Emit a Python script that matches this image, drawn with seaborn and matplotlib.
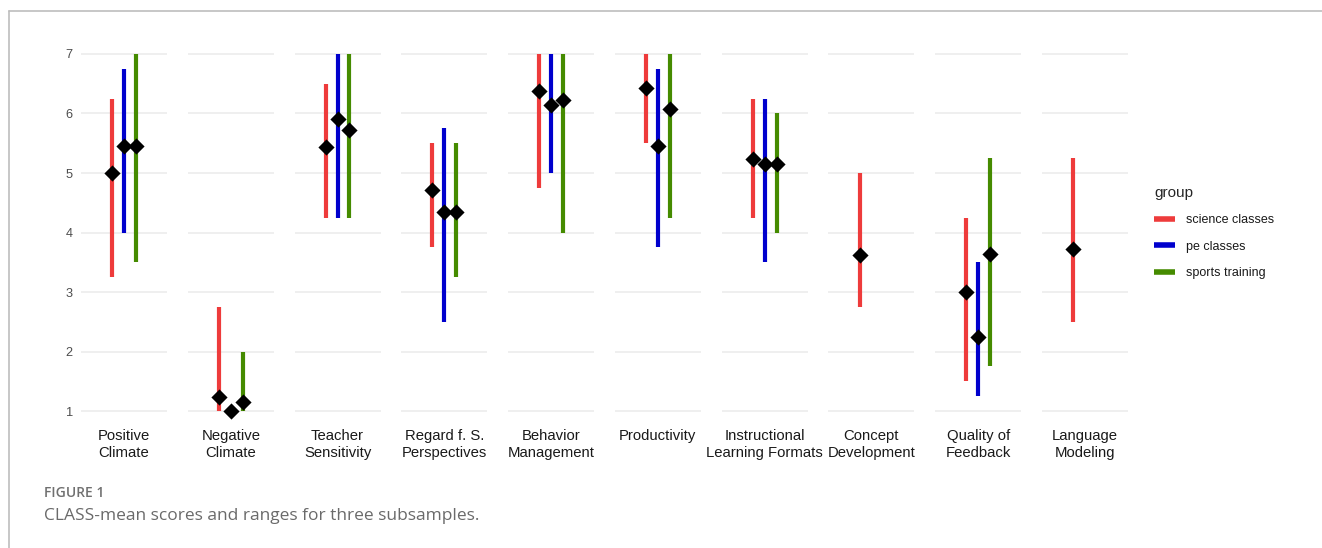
import numpy as np
import pandas as pd
import matplotlib
matplotlib.use("Agg")
import matplotlib.pyplot as plt
from matplotlib.lines import Line2D
import seaborn as sns

nan = np.nan

dimensions = [
    "Positive\nClimate", "Negative\nClimate", "Teacher\nSensitivity",
    "Regard f. S.\nPerspectives", "Behavior\nManagement", "Productivity",
    "Instructional\nLearning Formats", "Concept\nDevelopment",
    "Quality of\nFeedback", "Language\nModeling",
]
groups = ["science classes", "pe classes", "sports training"]

science_mean = [5.00, 1.23, 5.44, 4.71, 6.38, 6.43, 5.24, 3.63, 3.00, 3.72]
science_min = [3.25, 1.00, 4.25, 3.75, 4.75, 5.50, 4.25, 2.75, 1.50, 2.50]
science_max = [6.25, 2.75, 6.50, 5.50, 7.00, 7.00, 6.25, 5.00, 4.25, 5.25]

pe_mean = [5.45, 1.00, 5.90, 4.34, 6.15, 5.45, 5.15, nan, 2.25, nan]
pe_min = [4.00, 1.00, 4.25, 2.50, 5.00, 3.75, 3.50, nan, 1.25, nan]
pe_max = [6.75, 1.00, 7.00, 5.75, 7.00, 6.75, 6.25, nan, 3.50, nan]

sports_mean = [5.45, 1.15, 5.73, 4.34, 6.22, 6.07, 5.15, nan, 3.64, nan]
sports_min = [3.50, 1.00, 4.25, 3.25, 4.00, 4.25, 4.00, nan, 1.75, nan]
sports_max = [7.00, 2.00, 7.00, 5.50, 7.00, 7.00, 6.00, nan, 5.25, nan]

y_ticks = [1, 2, 3, 4, 5, 6, 7]
palette = {"science classes": "#EE3B3B", "pe classes": "#0000CD",
           "sports training": "#458B00"}

# long-form table: one row per dimension and group
frames = []
for grp, mean, lo, hi in [
    ("science classes", science_mean, science_min, science_max),
    ("pe classes", pe_mean, pe_min, pe_max),
    ("sports training", sports_mean, sports_min, sports_max),
]:
    frames.append(pd.DataFrame({"dimension": dimensions, "group": grp,
                                "mean": mean, "lo": lo, "hi": hi}))
df = pd.concat(frames, ignore_index=True)
df["group"] = pd.Categorical(df["group"], categories=groups)

sns.set_theme(style="white")
plt.rcParams["font.family"] = ["Liberation Sans", "DejaVu Sans"]

DODGE = 0.5


def draw_ranges(data, **kwargs):
    ax = plt.gca()
    data = data.dropna(subset=["mean"]).copy()
    idx = data["group"].cat.codes.to_numpy()
    data["x"] = 1 + (idx - 1) * DODGE / 3
    ax.vlines(data["x"], data["lo"], data["hi"],
              colors=[palette[g] for g in data["group"]],
              linewidth=3.0, capstyle="butt", zorder=2)
    sns.scatterplot(data=data, x="x", y="mean", marker="D", color="black",
                    s=68, linewidth=0, ax=ax, zorder=3, legend=False)


g = sns.FacetGrid(df, col="dimension", col_order=dimensions,
                  sharey=True, sharex=False, despine=False)
g.map_dataframe(draw_ranges)

fig = g.figure
fig.set_size_inches(13.22, 5.48)
fig.set_dpi(100)
fig.subplots_adjust(left=81 / 1322, right=1128 / 1322,
                    top=1 - 36.1 / 548, bottom=1 - 429 / 548, wspace=0.242)

for i, (name, ax) in enumerate(g.axes_dict.items()):
    ax.set_title("")
    ax.set_xlim(0.4, 1.6)
    ax.set_ylim(0.7, 7.3)
    ax.set_xlabel("")
    ax.set_ylabel("")
    ax.set_xticks([1])
    ax.set_xticklabels([name], fontsize=10.7, color="#1A1A1A",
                       linespacing=1.3)
    ax.set_yticks(y_ticks)
    ax.set_yticklabels([str(t) for t in y_ticks], fontsize=9.2,
                       color="#4D4D4D")
    ax.tick_params(axis="both", length=0)
    ax.tick_params(axis="x", pad=0)
    ax.tick_params(axis="y", pad=6, labelleft=(i == 0))
    for s in ax.spines.values():
        s.set_visible(False)
    ax.grid(axis="y", color="#EBEBEB", linewidth=1.1)
    ax.grid(axis="x", visible=False)
    ax.set_axisbelow(True)
    ax.set_facecolor("white")

handles = [Line2D([], [], color=palette[grp], linewidth=4,
                  solid_capstyle="butt") for grp in groups]
leg = fig.legend(handles, groups, title="group", loc="upper left",
                 bbox_to_anchor=(1143 / 1322, 1 - 175 / 548), frameon=False,
                 fontsize=9, title_fontsize=11, handlelength=1.65,
                 handletextpad=0.85, labelspacing=1.15, alignment="left")
leg._legend_box.sep = 10
for t in leg.get_texts():
    t.set_color("#1A1A1A")

# page frame lines
frame_color = "#BDBDBD"
fig.add_artist(Line2D([9 / 1322, 1], [1 - 11 / 548, 1 - 11 / 548],
                      transform=fig.transFigure, color=frame_color,
                      linewidth=1.2))
fig.add_artist(Line2D([9 / 1322, 9 / 1322], [0, 1 - 11 / 548],
                      transform=fig.transFigure, color=frame_color,
                      linewidth=1.2))

fig.text(44 / 1322, 1 - 497 / 548, "FIGURE 1", family=["Open Sans", "DejaVu Sans"],
         fontsize=10, fontweight="semibold", color="#707070", va="baseline")
fig.text(44 / 1322, 1 - 520 / 548,
         "CLASS-mean scores and ranges for three subsamples.",
         family=["Open Sans", "DejaVu Sans"], fontsize=12.5, color="#6A6A6A",
         va="baseline")

fig.savefig("out.png", dpi=100, facecolor="white")
